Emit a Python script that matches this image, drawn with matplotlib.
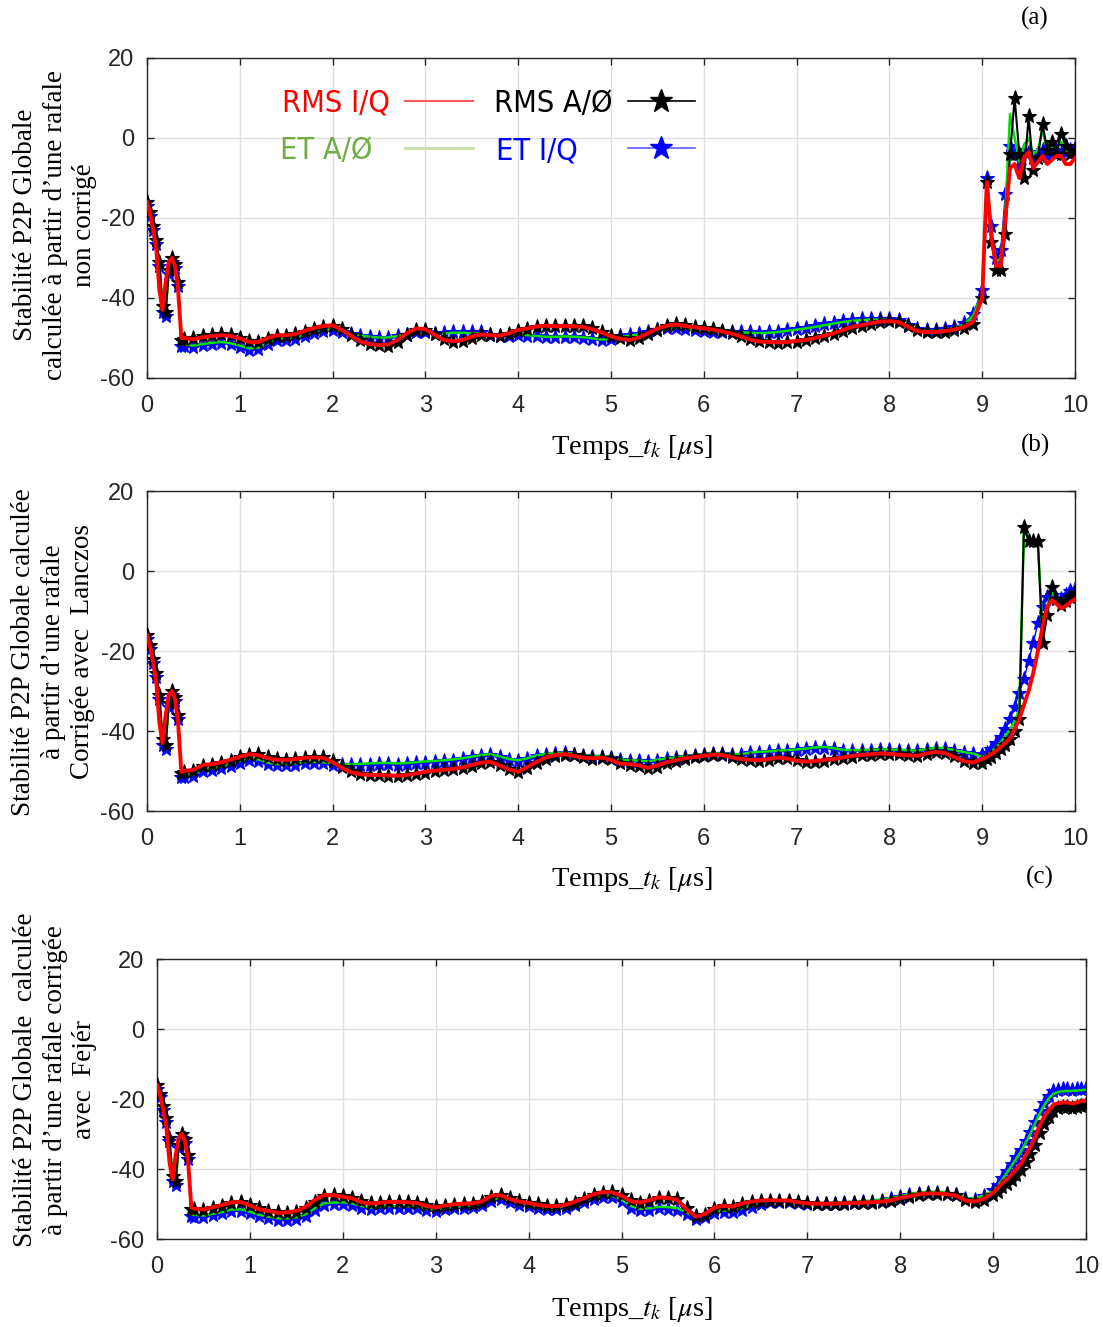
import matplotlib
matplotlib.use("Agg")
import matplotlib.pyplot as plt
from matplotlib.lines import Line2D
import numpy as np

# time grid (µs): dense start, 0.1 step body, 0.05 step end
t_head = np.linspace(0, 0.335, 11)
t_body = np.round(np.arange(0.4, 8.95, 0.1), 2)
t_tail = np.round(np.arange(9.0, 10.01, 0.05), 2)
temps = np.concatenate([t_head, [0.37], t_body, t_tail])

# start of the burst, same in the three panels
head_rms_iq = [-16, -19, -23, -28, -38, -43, -36, -31, -30, -32, -38]
head_rms_aphi = [-16, -18.5, -22, -25.5, -31, -42, -43.5, -33, -30, -31.5, -36]
head_et_aphi = [-16.5, -19, -22.5, -26, -31.5, -42.5, -44, -33.5, -30.5, -32, -36.5]
head_et_iq = [-17, -19.5, -23, -26.5, -32, -43.5, -44.5, -34, -31, -32.5, -37]

# (a) non corrigé
a_rms_iq = [-50.0,
    -50.0, -50.3, -49.8, -49.5, -49.3, -49.5,
    -50.1, -51.0, -51.0, -50.0, -49.3, -49.3, -49.0, -48.2, -47.5, -47.0,
    -46.8, -48.0, -49.5, -50.9, -51.5, -51.8, -51.6, -50.5, -48.8, -47.6,
    -47.8, -49.2, -50.5, -50.8, -50.5, -49.6, -49.1, -49.3, -49.4, -48.8,
    -48.0, -47.6, -47.1, -46.9, -47.1, -47.0, -47.1, -47.2, -47.8, -48.6,
    -49.6, -50.2, -50.5, -49.9, -48.8, -47.6, -46.9, -46.6, -47.0, -47.3,
    -47.6, -47.9, -48.4, -48.9, -49.6, -50.4, -50.9, -51.0, -51.1, -51.0,
    -50.7, -50.5, -50.0, -49.4, -48.8, -48.0, -47.2, -46.8, -46.3, -45.9,
    -45.8, -46.0, -47.2, -48.3, -48.5, -48.5, -48.3, -47.9, -47.3, -46.0,
    -40, -11, -25, -32, -32, -20, -7.5, -6.5, -10, -5, -3.5,
    -7.5, -6, -4.5, -6.5, -5.5, -4.5, -4.5, -6.5, -6.5, -5]
a_rms_aphi = [-50.5,
    -50.2, -50.0, -49.6, -49.3, -49.0, -49.3,
    -50.0, -50.8, -51.0, -50.2, -49.5, -49.4, -49.1, -48.5, -47.7, -47.2,
    -46.9, -47.8, -49.3, -50.6, -51.4, -51.8, -51.9, -50.9, -49.2, -47.9,
    -47.9, -49.0, -50.3, -50.9, -50.7, -49.9, -49.3, -49.2, -49.5, -49.0,
    -48.2, -47.7, -47.3, -47.0, -47.0, -47.1, -47.0, -47.1, -47.6, -48.4,
    -49.4, -50.1, -50.6, -50.1, -49.1, -47.9, -47.1, -46.6, -46.8, -47.2,
    -47.5, -47.8, -48.2, -48.8, -49.4, -50.2, -50.8, -51.0, -51.2, -51.1,
    -50.9, -50.6, -50.1, -49.6, -49.0, -48.2, -47.4, -46.9, -46.5, -46.0,
    -45.8, -45.9, -46.9, -48.1, -48.6, -48.6, -48.5, -48.1, -47.6, -46.5,
    -40, -11, -26, -33, -33, -24, -4, 10, -4, -10, 5.5,
    -8, -5, 3.5, -3, -1, -4, 1, -2, -4, -3]
a_et_aphi = [-51.5,
    -51.6, -51.9, -51.5, -51.2, -51.0, -51.3,
    -51.9, -52.6, -52.4, -51.3, -50.3, -50.2, -49.9, -49.2, -48.5, -48.0,
    -47.8, -48.4, -48.9, -49.3, -49.7, -49.9, -49.9, -49.5, -49.0, -48.3,
    -48.3, -48.8, -48.9, -48.7, -48.7, -48.8, -48.9, -49.3, -49.5, -49.3,
    -49.0, -49.3, -49.5, -49.7, -49.7, -49.6, -49.7, -49.8, -50.1, -50.4,
    -50.2, -49.7, -49.4, -49.1, -48.7, -48.1, -47.6, -47.3, -47.6, -47.9,
    -48.1, -48.3, -48.6, -48.7, -48.6, -48.7, -48.8, -48.7, -48.5, -48.2,
    -47.9, -47.6, -47.2, -46.8, -46.4, -46.0, -45.7, -45.5, -45.4, -45.4,
    -45.5, -45.8, -46.9, -47.9, -48.2, -48.2, -48.0, -47.5, -46.7, -44.5,
    -39, -10, -23, -31, -30, -18, 6, 0, -6, -2, 0,
    -4, -3, 2, -3, -2, -3, -1, -3, -3.5, -3]
a_et_iq = [-52.0,
    -52.0, -52.3, -51.8, -51.5, -51.3, -51.6,
    -52.2, -53.0, -52.8, -51.6, -50.6, -50.5, -50.2, -49.5, -48.8, -48.3,
    -48.0, -48.6, -49.0, -49.4, -49.8, -50.0, -50.0, -49.6, -49.2, -48.6,
    -48.6, -49.0, -48.8, -48.4, -48.4, -48.5, -48.6, -49.2, -49.6, -49.4,
    -49.2, -49.4, -49.6, -49.8, -49.8, -49.7, -49.8, -50.0, -50.3, -50.6,
    -50.3, -49.6, -49.2, -48.9, -48.6, -48.0, -47.6, -47.4, -47.8, -48.0,
    -48.2, -48.4, -48.6, -48.6, -48.5, -48.6, -48.7, -48.6, -48.4, -48.0,
    -47.7, -47.4, -47.0, -46.6, -46.2, -45.8, -45.5, -45.3, -45.2, -45.2,
    -45.3, -45.6, -46.8, -47.8, -48.0, -48.0, -47.8, -47.3, -46.3, -44.0,
    -38, -10, -22, -30, -28, -14, -2, -4, -7, -3, -3.5,
    -5, -4, -3, -4.5, -3.5, -3, -4, -3.5, -3, -2.5]

# (b) corrigé avec Lanczos
b_rms_iq = [-50.2,
    -50.0, -49.7, -48.5, -48.3, -47.8, -47.2,
    -46.4, -45.8, -46.0, -46.8, -47.2, -47.2, -47.0, -46.7, -46.6, -46.7,
    -47.8, -49.2, -50.3, -50.8, -51.0, -51.0, -51.1, -51.2, -51.0, -50.6,
    -50.2, -49.9, -49.7, -49.5, -49.1, -48.5, -47.9, -47.7, -48.6, -49.6,
    -50.2, -49.0, -47.7, -46.6, -46.0, -45.8, -46.2, -46.7, -46.8, -46.7,
    -47.2, -48.2, -48.3, -48.6, -49.2, -48.6, -47.8, -47.3, -46.8, -46.5,
    -46.2, -45.9, -46.0, -46.6, -47.0, -47.2, -47.3, -47.0, -46.6, -46.9,
    -47.4, -47.7, -47.5, -47.2, -47.0, -46.6, -46.2, -46.0, -45.8, -45.6,
    -45.7, -45.9, -46.1, -46.2, -45.6, -45.2, -45.5, -46.5, -47.5, -47.9,
    -47.0, -46.5, -45.8, -45.0, -44.0, -43.0, -41.8, -39.5, -37.0, -33.5, -30.0,
    -25.5, -20.0, -14.0, -9.0, -7.3, -8.2, -9.3, -8.8, -7.8, -7.0]
b_rms_aphi = [-50.5,
    -50.3, -49.9, -48.8, -48.4, -48.0, -47.4,
    -46.6, -45.9, -45.8, -46.5, -47.1, -47.3, -47.1, -46.8, -46.5, -46.6,
    -47.5, -48.9, -50.1, -50.7, -51.0, -51.1, -51.2, -51.3, -51.1, -50.8,
    -50.4, -50.0, -49.8, -49.6, -49.3, -48.7, -48.1, -47.8, -48.4, -49.4,
    -50.3, -49.3, -48.0, -46.9, -46.2, -45.9, -46.1, -46.6, -46.9, -46.8,
    -47.1, -48.0, -48.4, -48.7, -49.3, -48.9, -48.1, -47.5, -47.0, -46.6,
    -46.3, -46.0, -45.9, -46.4, -46.9, -47.3, -47.4, -47.2, -46.8, -46.8,
    -47.3, -47.8, -47.7, -47.4, -47.1, -46.8, -46.4, -46.1, -45.9, -45.7,
    -45.7, -45.8, -46.1, -46.3, -45.8, -45.3, -45.4, -46.3, -47.4, -48.1,
    -48.0, -47.0, -46.5, -45.5, -44.5, -43.5, -42.0, -40.0, -37.0, 11.0, 7.5,
    7.5, 7.5, -18.0, -11.0, -4.0, -7.0, -8.5, -7.5, -6.5, -5.5]
b_et_aphi = [-51.0,
    -51.0, -50.8, -49.6, -49.4, -48.9, -48.3,
    -47.5, -46.9, -47.1, -47.9, -48.3, -48.3, -48.1, -47.8, -47.7, -47.8,
    -48.1, -48.3, -48.3, -48.2, -48.1, -48.0, -48.0, -48.1, -48.0, -47.8,
    -47.6, -47.5, -47.3, -47.1, -46.8, -46.4, -46.0, -45.8, -46.4, -47.0,
    -47.3, -46.8, -46.1, -45.7, -45.5, -45.4, -45.7, -46.1, -46.2, -46.2,
    -46.5, -47.1, -47.3, -47.4, -47.6, -47.2, -46.8, -46.6, -46.3, -46.1,
    -45.8, -45.6, -45.6, -45.8, -45.8, -45.4, -45.2, -45.1, -44.9, -44.8,
    -44.6, -44.4, -44.1, -44.0, -44.3, -44.7, -44.8, -44.8, -44.7, -44.6,
    -44.6, -44.7, -44.8, -44.9, -44.5, -44.2, -44.3, -44.8, -45.3, -45.6,
    -46.5, -46.0, -45.2, -44.0, -42.8, -41.2, -39.5, -37.5, -34.5, 10.5, 8.0,
    7.5, 7.5, -16.0, -8.5, -5.5, -6.5, -7.5, -7.0, -5.8, -5.0]
b_et_iq = [-51.5,
    -51.5, -51.2, -50.0, -49.8, -49.3, -48.7,
    -47.9, -47.3, -47.5, -48.3, -48.6, -48.6, -48.4, -48.1, -48.0, -48.1,
    -48.4, -48.6, -48.6, -48.5, -48.4, -48.3, -48.3, -48.4, -48.3, -48.1,
    -47.9, -47.8, -47.6, -47.4, -47.0, -46.6, -46.2, -46.0, -46.6, -47.2,
    -47.6, -47.0, -46.3, -45.9, -45.7, -45.6, -45.9, -46.3, -46.4, -46.4,
    -46.7, -47.3, -47.5, -47.6, -47.8, -47.4, -47.0, -46.8, -46.5, -46.3,
    -46.0, -45.8, -45.8, -46.0, -46.0, -45.6, -45.4, -45.3, -45.1, -45.0,
    -44.8, -44.6, -44.3, -44.2, -44.5, -44.9, -45.0, -45.0, -44.9, -44.8,
    -44.8, -44.9, -45.0, -45.1, -44.7, -44.4, -44.5, -45.0, -45.5, -45.8,
    -46.0, -45.5, -44.5, -43.0, -41.5, -39.5, -37.0, -34.0, -30.5, -27.0, -22.5,
    -18.0, -13.0, -9.0, -6.5, -6.0, -7.0, -7.0, -6.0, -5.0, -4.5]

# (c) corrigé avec Fejér
c_rms_iq = [-51.0,
    -51.3, -51.6, -50.9, -50.3, -49.5, -49.4,
    -50.4, -51.5, -52.0, -52.5, -52.4, -52.0, -50.8, -48.8, -47.4, -47.5,
    -47.9, -48.4, -49.5, -49.9, -49.6, -49.4, -49.4, -49.5, -49.7, -50.6,
    -51.0, -50.4, -50.1, -49.9, -49.8, -49.2, -47.6, -47.5, -48.6, -49.3,
    -49.7, -50.3, -50.6, -50.6, -50.2, -49.3, -48.3, -47.2, -46.6, -46.7,
    -47.6, -49.2, -49.6, -48.9, -48.1, -48.3, -48.8, -51.5, -53.6, -52.8,
    -51.0, -50.5, -50.8, -49.8, -49.3, -49.0, -48.9, -49.0, -49.0, -49.5,
    -49.8, -49.9, -49.9, -49.9, -49.8, -49.7, -49.6, -49.5, -49.3, -49.0,
    -48.2, -47.8, -47.2, -47.0, -47.0, -47.2, -47.6, -49.0, -49.3, -48.5,
    -46.8, -45.5, -44.0, -43.0, -41.5, -40.0, -38.5, -36.0, -33.8, -31.0, -27.6,
    -25.0, -23.3, -21.6, -21.2, -21.0, -21.0, -21.3, -21.0, -20.6, -20.5]
c_rms_aphi = [-51.3,
    -51.5, -51.7, -51.1, -50.6, -49.8, -49.5,
    -50.2, -51.2, -51.9, -52.4, -52.5, -52.2, -51.2, -49.3, -47.7, -47.4,
    -47.7, -48.2, -49.2, -49.8, -49.7, -49.5, -49.4, -49.5, -49.6, -50.3,
    -50.9, -50.6, -50.2, -50.0, -49.9, -49.5, -48.0, -47.4, -48.3, -49.1,
    -49.6, -50.1, -50.6, -50.7, -50.4, -49.6, -48.6, -47.5, -46.8, -46.6,
    -47.3, -48.8, -49.7, -49.2, -48.3, -48.2, -48.6, -51.0, -53.3, -53.2,
    -51.5, -50.6, -50.8, -50.1, -49.5, -49.1, -49.0, -49.0, -49.1, -49.4,
    -49.8, -50.0, -50.0, -50.0, -49.9, -49.8, -49.7, -49.6, -49.4, -49.1,
    -48.5, -48.0, -47.4, -47.1, -47.0, -47.1, -47.5, -48.8, -49.5, -48.9,
    -47.5, -46.5, -45.2, -44.2, -43.0, -41.8, -40.3, -38.0, -35.8, -33.0, -29.8,
    -27.0, -25.0, -23.3, -22.5, -22.3, -22.4, -22.6, -22.4, -22.0, -21.8]
c_et_aphi = [-53.0,
    -53.1, -53.3, -52.8, -52.3, -51.6, -51.5,
    -52.2, -53.1, -53.6, -54.1, -54.1, -53.8, -52.9, -51.2, -49.8, -49.6,
    -49.5, -49.8, -50.6, -51.0, -50.8, -50.6, -50.6, -50.6, -50.8, -51.4,
    -51.6, -51.1, -50.8, -50.6, -50.4, -49.9, -48.6, -48.3, -49.1, -49.8,
    -50.2, -50.8, -51.1, -51.1, -50.6, -49.9, -49.1, -48.1, -47.6, -47.7,
    -48.8, -50.6, -51.4, -51.2, -50.8, -50.9, -51.2, -52.4, -53.9, -53.4,
    -52.2, -51.9, -52.0, -51.2, -50.4, -49.6, -49.1, -49.0, -49.0, -49.3,
    -49.6, -49.7, -49.7, -49.6, -49.5, -49.3, -49.2, -49.0, -48.7, -48.3,
    -47.7, -47.2, -46.7, -46.5, -46.5, -46.7, -47.1, -48.2, -48.5, -47.5,
    -46.3, -44.8, -43.0, -41.0, -39.0, -37.0, -35.0, -32.5, -30.0, -27.0, -24.2,
    -21.8, -19.8, -18.5, -18.0, -17.8, -17.7, -17.7, -17.6, -17.5, -17.3]
c_et_iq = [-53.5,
    -53.6, -53.8, -53.2, -52.7, -52.0, -51.9,
    -52.6, -53.5, -54.0, -54.5, -54.5, -54.2, -53.3, -51.6, -50.2, -50.0,
    -49.9, -50.2, -51.0, -51.4, -51.2, -51.0, -51.0, -51.0, -51.2, -51.8,
    -52.0, -51.5, -51.2, -51.0, -50.8, -50.3, -49.0, -48.7, -49.5, -50.2,
    -50.6, -51.2, -51.5, -51.5, -51.0, -50.3, -49.5, -48.5, -48.0, -48.1,
    -49.2, -51.0, -51.8, -51.6, -51.2, -51.3, -51.6, -52.8, -54.3, -53.8,
    -52.6, -52.3, -52.4, -51.6, -50.8, -50.0, -49.4, -49.3, -49.3, -49.6,
    -49.9, -50.0, -50.0, -49.9, -49.8, -49.6, -49.5, -49.3, -49.0, -48.6,
    -48.0, -47.5, -47.0, -46.8, -46.8, -47.0, -47.4, -48.5, -48.8, -47.8,
    -46.0, -44.5, -42.5, -40.5, -38.5, -36.5, -34.5, -32.0, -29.5, -26.5, -23.5,
    -21.0, -19.0, -17.8, -17.4, -17.2, -17.2, -17.3, -17.2, -17.0, -16.8]

x_ticks = [0, 1, 2, 3, 4, 5, 6, 7, 8, 9, 10]
y_ticks = [-60, -40, -20, 0, 20]

ylabels = [
    "Stabilité P2P Globale\ncalculée à partir d\u2019une rafale\nnon corrigé",
    "Stabilité P2P Globale calculée\nà partir d\u2019une rafale\nCorrigée avec  Lanczos",
    "Stabilité P2P Globale  calculée\nà partir d\u2019une rafale corrigée\navec  Fejér",
]
panel_tags = ["(a)", "(b)", "(c)"]
xlabel = r"Temps_$t_k$ [$\mu$s]"
# trailing spaces keep the labels flush left inside each legend column
legend_labels = ["RMS I/Q", "ET A/\u00d8  ", "RMS A/\u00d8", "ET I/Q    "]

plt.rcParams['mathtext.fontset'] = 'stix'
plt.rcParams['axes.unicode_minus'] = False
serif = 'Liberation Serif'
sans = 'Liberation Sans'

fig = plt.figure(figsize=(11.03, 13.27), dpi=100)
W, H = 1103, 1327

# axes boxes in pixels: left, top, right, bottom
boxes = [(147, 58, 1075, 378), (147, 491, 1075, 811), (157, 959, 1086, 1239)]
series = [
    (a_rms_iq, a_rms_aphi, a_et_aphi, a_et_iq),
    (b_rms_iq, b_rms_aphi, b_et_aphi, b_et_iq),
    (c_rms_iq, c_rms_aphi, c_et_aphi, c_et_iq),
]
ylab_pos = [(55, 225), (53, 652), (55, 1080)]
xlab_pos = [(632, 447), (632, 880), (632, 1310)]
tag_pos = [(1035, 18), (1035, 445), (1040, 877)]

for i, (l, t, r, b) in enumerate(boxes):
    ax = fig.add_axes([l / W, 1 - b / H, (r - l) / W, (b - t) / H])
    rms_iq, rms_aphi, et_aphi, et_iq = series[i]
    ax.plot(temps, head_et_iq + et_iq, color='b', lw=1, marker='*', ms=11, mew=0.8, zorder=2)
    ax.plot(temps, head_et_aphi + et_aphi, color='#00e000', lw=1.8, zorder=3)
    ax.plot(temps, head_rms_aphi + rms_aphi, color='k', lw=1.5, marker='*', ms=11, mew=0.8, zorder=4)
    ax.plot(temps, head_rms_iq + rms_iq, color='r', lw=2.8, zorder=5)

    ax.set_xlim(0, 10)
    ax.set_ylim(-60, 20)
    ax.set_xticks(x_ticks)
    ax.set_yticks(y_ticks)
    ax.grid(True, color='#dedede', lw=1)
    ax.set_axisbelow(True)
    ax.tick_params(direction='in', length=5, width=1, top=True, right=True,
                   labelsize=17, colors='#262626')
    ax.tick_params(axis='x', pad=12)
    ax.tick_params(axis='y', pad=9)
    for lab in ax.get_xticklabels() + ax.get_yticklabels():
        lab.set_family(sans)
    for s in ax.spines.values():
        s.set_color('#262626')
        s.set_linewidth(1)

    fig.text(ylab_pos[i][0] / W, 1 - ylab_pos[i][1] / H, ylabels[i], rotation=90,
             ha='center', va='center', multialignment='center',
             family=serif, fontsize=19.5, linespacing=1.25)
    fig.text(xlab_pos[i][0] / W, 1 - xlab_pos[i][1] / H, xlabel,
             ha='center', va='center', family=serif, fontsize=20.5)
    fig.text(tag_pos[i][0] / W, 1 - tag_pos[i][1] / H, panel_tags[i],
             ha='center', va='center', family=serif, fontsize=18)

    if i == 0:
        handles = [
            Line2D([], [], color='#ff5a5a', lw=1.5),
            Line2D([], [], color='#c5e0a5', lw=2),
            Line2D([], [], color='k', lw=1.2, marker='*', ms=17),
            Line2D([], [], color='#5a5aff', lw=1.2, marker='*', ms=17, mfc='b', mec='b'),
        ]
        leg = ax.legend(handles, legend_labels, ncol=2, loc='upper left',
                        bbox_to_anchor=(0.114, 0.99), frameon=False, markerfirst=False,
                        handlelength=2.2, columnspacing=0.7, handletextpad=0.5,
                        labelspacing=0.6,
                        prop={'family': 'DejaVu Sans', 'stretch': 'condensed',
                              'size': 22})
        for txt, c in zip(leg.get_texts(), ['red', '#70ad47', 'black', 'blue']):
            txt.set_color(c)

fig.savefig("out.png", dpi=100)
